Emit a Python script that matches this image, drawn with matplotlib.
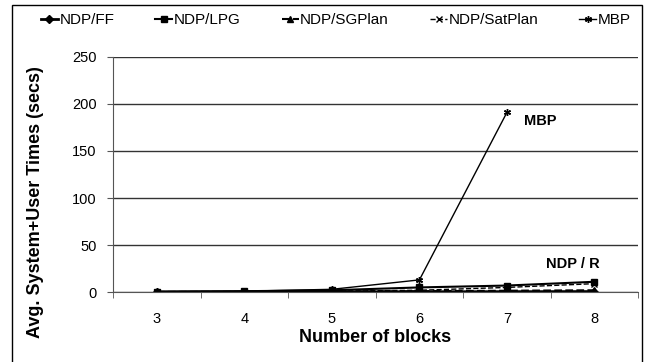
import matplotlib
matplotlib.use('Agg')
import matplotlib.pyplot as plt
from matplotlib.patches import Rectangle

plt.rcParams['font.family'] = ['Liberation Sans', 'DejaVu Sans']

blocks = [3, 4, 5, 6, 7, 8]
ndp_ff = [0.1, 0.2, 0.3, 0.4, 0.5, 0.6]
ndp_lpg = [0.5, 1.0, 2.0, 5.0, 7.0, 11.0]
ndp_sgplan = [0.2, 0.3, 0.5, 1.0, 1.5, 2.0]
ndp_satplan = [0.3, 0.5, 1.0, 2.0, 5.0, 9.0]
mbp_blocks = [3, 4, 5, 6, 7]
mbp = [0.5, 1.0, 3.0, 13.0, 191.0]

fig = plt.figure(figsize=(6.46, 3.62), dpi=100)
ax = fig.add_axes([0.175, 0.193, 0.813, 0.65])

# outer chart frame
fig.patches.append(Rectangle((12 / 646, -0.01), 630 / 646, 1 - 5 / 362 + 0.01,
                             transform=fig.transFigure, fill=False,
                             edgecolor='black', linewidth=1.0))

asterisk = (6, 2, 0)
ax.plot(blocks, ndp_ff, '-', color='black', marker='D', markersize=4, linewidth=2, label='NDP/FF')
ax.plot(blocks, ndp_lpg, '-', color='black', marker='s', markersize=5, linewidth=1.5, label='NDP/LPG')
ax.plot(blocks, ndp_sgplan, '--', color='black', marker='^', markersize=4, linewidth=1.5, label='NDP/SGPlan')
ax.plot(blocks, ndp_satplan, '--', color='black', marker='x', markersize=4, linewidth=1.0, label='NDP/SatPlan')
ax.plot(mbp_blocks, mbp, '-', color='black', marker=asterisk, markersize=5, linewidth=1.0, label='MBP')

ax.set_xlim(2.5, 8.5)
ax.set_ylim(0, 250)
ax.set_yticks([0, 50, 100, 150, 200, 250])
ax.set_xticks(blocks)
ax.set_xticks([b - 0.5 for b in blocks] + [8.5], minor=True)
ax.tick_params(axis='x', which='major', length=0, pad=14, labelsize=10.5)
ax.tick_params(axis='x', which='minor', length=4, color='#555555')
ax.tick_params(axis='y', length=4, color='#555555', labelsize=10.5, pad=8)
ax.yaxis.grid(True, color='#333333', linewidth=1.0)
ax.set_axisbelow(True)
for s in ['top', 'right']:
    ax.spines[s].set_visible(False)
ax.spines['left'].set_color('#555555')
ax.spines['bottom'].set_color('#555555')

fig.text(375 / 646, 1 - 338 / 362, 'Number of blocks', fontsize=13, fontweight='bold',
         ha='center', va='center')
fig.text(36 / 646, 1 - 202 / 362, 'Avg. System+User Times (secs)', fontsize=13,
         fontweight='bold', ha='center', va='center', rotation=90)

ax.text(7.2, 182, 'MBP', fontsize=10.5, fontweight='bold', ha='left', va='center')
ax.text(7.45, 30, 'NDP / R', fontsize=10.5, fontweight='bold', ha='left', va='center')

fig.legend(loc='center', bbox_to_anchor=(0.52, 0.945), ncol=5, frameon=False,
           fontsize=11, handlelength=1.1, handletextpad=0.1, columnspacing=2.7)

fig.savefig('out.png', dpi=100)
